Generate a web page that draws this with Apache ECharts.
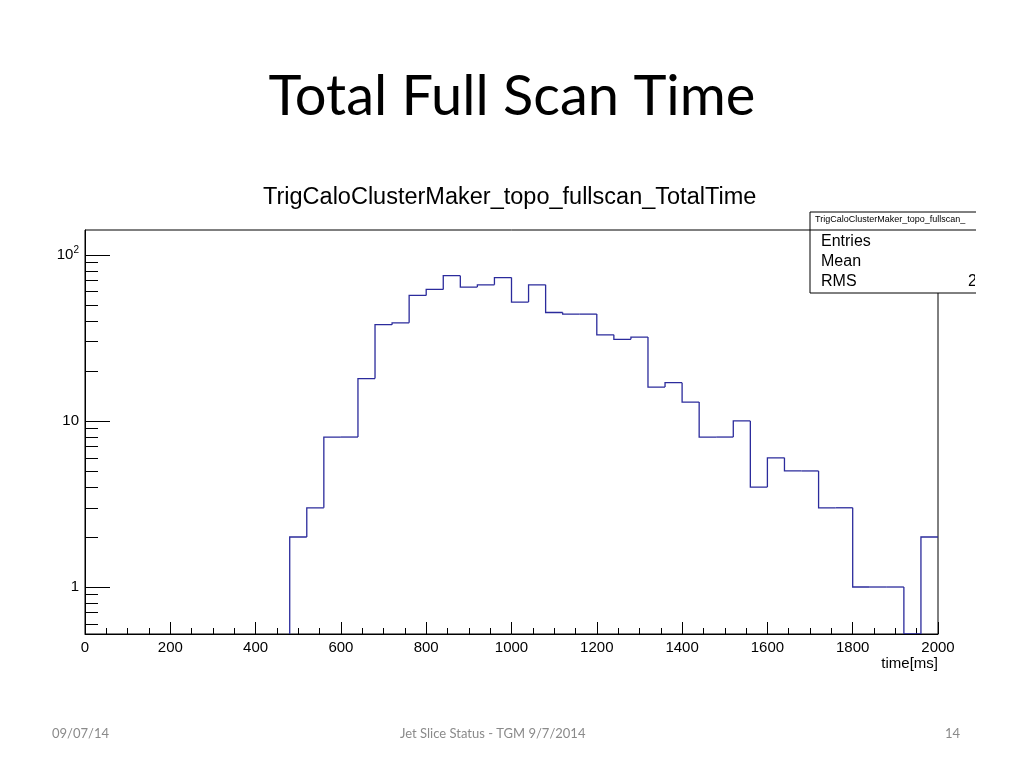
<!DOCTYPE html>
<html><head><meta charset="utf-8">
<script src="https://cdn.jsdelivr.net/npm/echarts@6/dist/echarts.min.js"></script>
<style>html,body{margin:0;padding:0;background:#fff}#c{width:1024px;height:768px}</style>
</head><body><div id="c"></div>
<script>
const binStart = 480;
const binWidth = 40;
const counts = [2,3,8,8,18,38,39,57,62,75,64,66,73,52,66,45,44,44,33,31,32,16,17,13,8,8,10,4,6,5,5,3,3,1,1,1,0,2];
const xTicks = [0,200,400,600,800,1000,1200,1400,1600,1800,2000];
const yMajor = [1,10,100];
const yMinor = [0.6,0.7,0.8,0.9,2,3,4,5,6,7,8,9,20,30,40,50,60,70,80,90];
const yMinLog = -0.283, yMaxLog = 2.15;
const L = v => v > 0 ? Math.log10(v) : yMinLog;
const chart = echarts.init(document.getElementById('c'));
const font = 'Liberation Sans';
chart.setOption({
  animation:false,
  title:[
    {text:'Total Full Scan Time',left:'center',top:64,textStyle:{fontFamily:'Lato',fontSize:56,fontWeight:'normal',color:'#000'}},
    {text:'TrigCaloClusterMaker_topo_fullscan_TotalTime',left:258,top:181,textStyle:{fontFamily:font,fontSize:23.5,fontWeight:'normal',color:'#000'}}
  ],
  grid:{left:85,right:86,top:230,bottom:134,show:true,borderColor:'#000',borderWidth:1,backgroundColor:'transparent'},
  xAxis:{type:'value',min:0,max:2000,interval:200,
    axisLine:{onZero:false,lineStyle:{color:'#000'}},
    axisTick:{inside:true,length:12,lineStyle:{color:'#000'}},
    minorTick:{show:true,splitNumber:4,length:6,lineStyle:{color:'#000'}},
    splitLine:{show:false},
    axisLabel:{fontFamily:font,fontSize:15,color:'#000',margin:6,formatter:v=>String(v)},
    name:'time[ms]',nameLocation:'end',nameGap:0,
    nameTextStyle:{fontFamily:font,fontSize:15,color:'#000',align:'right',verticalAlign:'top',padding:[22,0,0,0]}
  },
  yAxis:[
    {type:'value',min:yMinLog,max:yMaxLog,
     axisLine:{show:true,onZero:false,lineStyle:{color:'#000'}},
     axisTick:{show:true,inside:true,length:25,customValues:yMajor.map(Math.log10),lineStyle:{color:'#000'}},
     axisLabel:{customValues:yMajor.map(Math.log10),fontFamily:font,fontSize:15,color:'#000',margin:6,
       formatter:v=>{const r=Math.round(v);return r===2?'10{s|2}':String(Math.pow(10,r));},
       rich:{s:{fontSize:10,verticalAlign:'top',padding:[0,0,10,0],fontFamily:font,color:'#000'}}},
     splitLine:{show:false}},
    {type:'value',min:yMinLog,max:yMaxLog,position:'left',
     axisLine:{show:false,onZero:false},
     axisTick:{show:true,inside:true,length:13,customValues:yMinor.map(Math.log10),lineStyle:{color:'#000'}},
     axisLabel:{show:false},splitLine:{show:false}}
  ],
  series:[{
    type:'custom',
    clip:true,
    data:counts.map((c,i)=>[binStart+i*binWidth,c]),
    renderItem:(params,api)=>{
      const i = params.dataIndex;
      const x0 = binStart+i*binWidth, x1 = x0+binWidth;
      const prev = i>0 ? counts[i-1] : 0;
      const p0 = api.coord([x0,L(prev)]);
      const p1 = api.coord([x0,L(counts[i])]);
      const p2 = api.coord([x1,L(counts[i])]);
      return {type:'polyline',shape:{points:[p0,p1,p2]},style:{stroke:'#2b2b9c',lineWidth:1.3,fill:null}};
    },
    encode:{x:0,y:1}
  }],
  graphic:[
    {type:'rect',z:100,shape:{x:810,y:212,width:180,height:81},style:{fill:'#fff',stroke:'#000',lineWidth:1}},
    {type:'rect',z:101,shape:{x:976,y:200,width:60,height:100},style:{fill:'#fff'}},
    {type:'line',z:101,shape:{x1:810,y1:230,x2:976,y2:230},style:{stroke:'#000',lineWidth:1}},
    {type:'text',z:102,left:815,top:215,style:{text:'TrigCaloClusterMaker_topo_fullscan_',fontFamily:font,fontSize:9,fill:'#000'}},
    {type:'text',z:102,left:821,top:234,style:{text:'Entries',fontFamily:font,fontSize:16,fill:'#000'}},
    {type:'text',z:102,left:821,top:254,style:{text:'Mean',fontFamily:font,fontSize:16,fill:'#000'}},
    {type:'text',z:102,left:821,top:274,style:{text:'RMS',fontFamily:font,fontSize:16,fill:'#000'}},
    {type:'text',z:102,left:968,top:274,style:{text:'2',fontFamily:font,fontSize:16,fill:'#000'}},
    {type:'rect',z:103,shape:{x:975,y:270,width:20,height:22},style:{fill:'#fff'}},
    {type:'text',left:52,top:727,style:{text:'09/07/14',fontFamily:'Lato',fontSize:13,fill:'#8a8a8a'}},
    {type:'text',left:400,top:727,style:{text:'Jet Slice Status - TGM 9/7/2014',fontFamily:'Lato',fontSize:13,fill:'#8a8a8a'}},
    {type:'text',left:945,top:727,style:{text:'14',fontFamily:'Lato',fontSize:13,fill:'#8a8a8a'}}
  ]
});
</script></body></html>
